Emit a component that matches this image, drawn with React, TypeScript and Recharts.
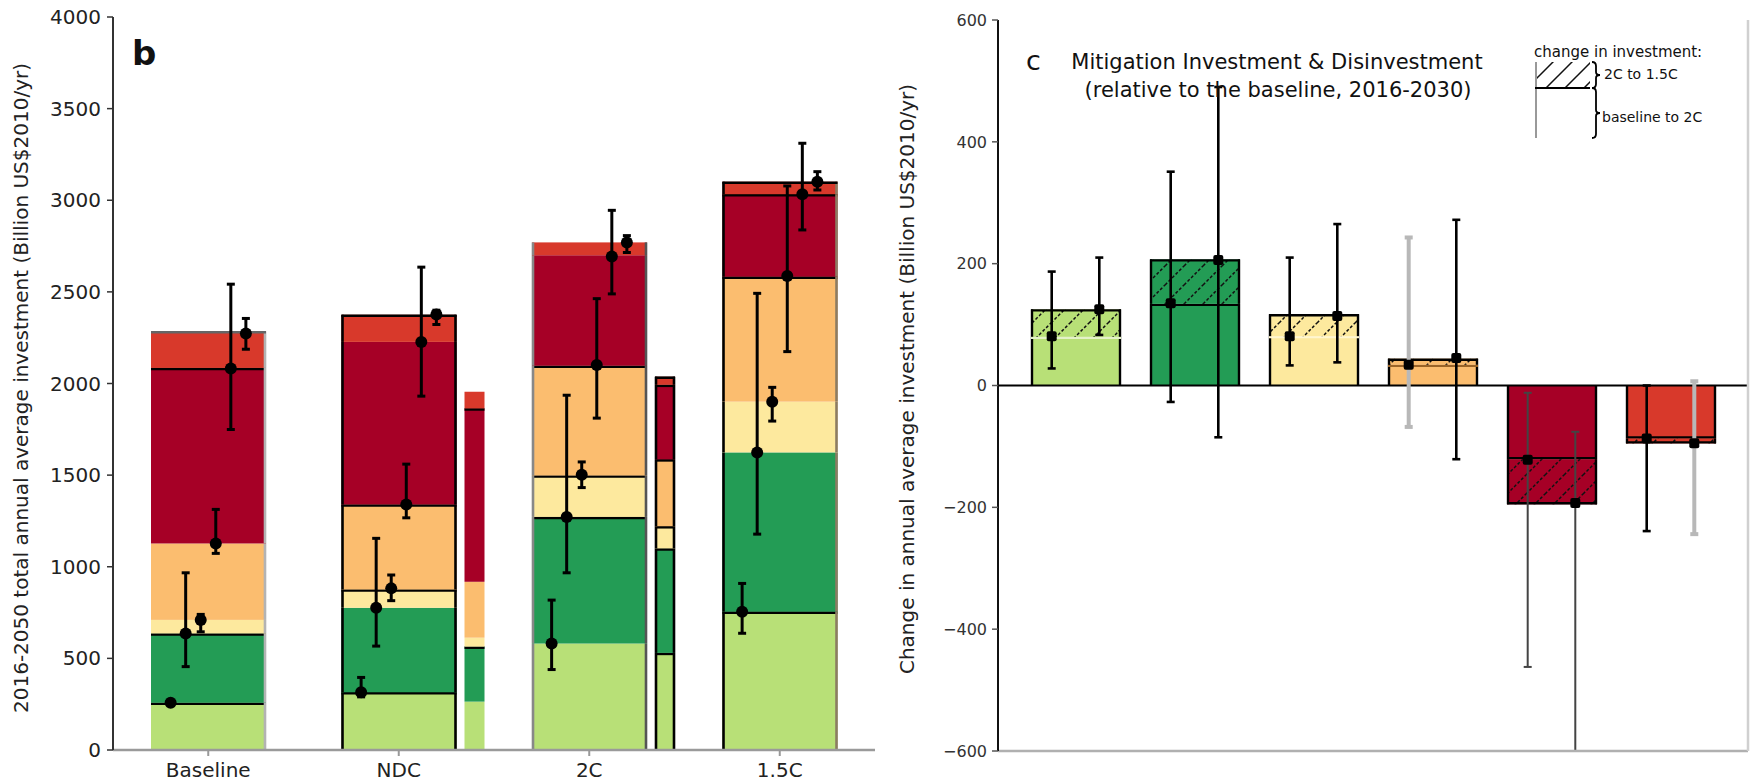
import React from "react";
import { ComposedChart, Bar, Scatter, ErrorBar, XAxis, YAxis, ReferenceLine } from "recharts";

const FONT = "'DejaVu Sans', sans-serif";

// ─── Panel b: 2016-2050 total annual average investment (Billion US$2010/yr) ───

const SCENARIOS = ["Baseline", "NDC", "2C", "1.5C"];
const SECTOR_COLORS = ["#b8e077", "#239c55", "#fde99e", "#fbbd6f", "#a60026", "#d8392b"];

// stacked segments of the wide bars, one value per scenario
const segLightGreen = [258, 315, 581, 755];
const segDarkGreen = [378, 461, 691, 869];
const segYellow = [74, 100, 226, 277];
const segOrange = [417, 464, 599, 682];
const segDarkRed = [958, 887, 603, 450];
const segRed = [200, 148, 70, 68];

// thin bars drawn next to NDC and 2C
const sideLightGreen = [0, 264, 530, 0];
const sideDarkGreen = [0, 300, 570, 0];
const sideYellow = [0, 49, 121, 0];
const sideOrange = [0, 305, 365, 0];
const sideDarkRed = [0, 946, 407, 0];
const sideRed = [0, 91, 44, 0];

// cumulative estimates with range, [mean, low, high] per scenario
const rngLightGreen = [[258, 247, 270], [315, 290, 396], [581, 439, 818], [755, 637, 909]];
const rngDarkGreen = [[636, 455, 967], [776, 567, 1155], [1272, 967, 1936], [1624, 1178, 2492]];
const rngYellow = [[709, 645, 740], [882, 815, 955], [1502, 1432, 1572], [1901, 1795, 1979]];
const rngOrange = [[1127, 1073, 1313], [1340, 1267, 1560], [2101, 1811, 2463], [2587, 2174, 3078]];
const rngDarkRed = [[2082, 1749, 2542], [2227, 1931, 2635], [2693, 2489, 2945], [3033, 2838, 3311]];
const rngRed = [[2273, 2187, 2355], [2376, 2322, 2400], [2770, 2715, 2807], [3101, 3056, 3156]];

const B_TICKS = [0, 500, 1000, 1500, 2000, 2500, 3000, 3500, 4000];

// ─── Panel c: change relative to the baseline, 2016-2030 ─────────────────────

const SECTORS = ["s1", "s2", "s3", "s4", "s5", "s6"];
const toTwoC = [80, 134, 81, 34, -121, -87]; // baseline -> 2C
const twoCToOnePointFive = [45, 73, 36, 10, -74, -8]; // 2C -> 1.5C (hatched)
const est2C = [[81, 28, 187], [135, -27, 351], [81, 33, 210], [34, -68, 243], [-122, -462, -12], [-87, -239, 0]];
const est15C = [[125, 83, 210], [206, -85, 490], [114, 38, 265], [45, -121, 272], [-193, -600, -76], [-95, -244, 7]];

const C_TICKS = [-600, -400, -200, 0, 200, 400, 600];

// ─── styling tables ──────────────────────────────────────────────────────────

type BarStyle = { lines: number[]; left: string | null; right: string | null; top: string | null };

const MAIN_STYLE: Record<string, BarStyle> = {
  Baseline: { lines: [0, 1, 4], left: null, right: "#b3b3b3", top: "#666" },
  NDC: { lines: [0, 2, 3], left: "#000", right: "#000", top: "#000" },
  "2C": { lines: [1, 2, 3], left: "#888", right: "#555", top: null },
  "1.5C": { lines: [0, 3, 4], left: "#000", right: "#8c7b63", top: "#000" },
};
const SIDE_STYLE: Record<string, BarStyle> = {
  NDC: { lines: [1, 4], left: null, right: null, top: null },
  "2C": { lines: [0, 1, 2, 3, 4], left: "#000", right: "#000", top: "#000" },
};
const SIDE_SHIFT = 76;
const POINT_STEP = 0.079;

const C_EDGE = ["#e4f2c8", "#000", "#fff6d0", "#9a6428", "#000", "#000"];
const TONE_2C = ["k", "k", "k", "light", "dark", "k"];
const TONE_15C = ["k", "k", "k", "k", "dark", "light"];
const TONES: Record<string, { stroke: string; w: number }> = {
  k: { stroke: "#000", w: 2.6 },
  dark: { stroke: "#444", w: 2 },
  light: { stroke: "#b8b8b8", w: 4 },
};

// ─── derived tables ─────────────────────────────────────────────────────────

const mainSegs = [segLightGreen, segDarkGreen, segYellow, segOrange, segDarkRed, segRed];
const sideSegs = [sideLightGreen, sideDarkGreen, sideYellow, sideOrange, sideDarkRed, sideRed];
const rangesB = [rngLightGreen, rngDarkGreen, rngYellow, rngOrange, rngDarkRed, rngRed];

const dataB = SCENARIOS.map((name, k) => {
  const row: Record<string, any> = { name };
  mainSegs.forEach((s, i) => (row[`m${i}`] = s[k]));
  sideSegs.forEach((s, i) => (row[`n${i}`] = s[k]));
  return row;
});

const scatterB = rangesB.map((rng, i) =>
  rng.map(([m, lo, hi], k) => ({ x: k + (i - 2.5) * POINT_STEP, y: m, err: [m - lo, hi - m] }))
);

const dataC = SECTORS.map((name, k) => ({ name, base: toTwoC[k], extra: twoCToOnePointFive[k] }));

function pointsC(est: number[][], tones: string[], shift: number, tone: string) {
  return est
    .map(([m, lo, hi], k) => ({ x: k + shift, y: m, err: [m - lo, hi - m], tone: tones[k] }))
    .filter((d) => d.tone === tone);
}

// ─── shapes ─────────────────────────────────────────────────────────────────

function stackShape(seg: number, side: boolean) {
  return (p: any) => {
    const { x, y, width, height, index } = p;
    if (!height || height <= 0) return <g />;
    const st = (side ? SIDE_STYLE : MAIN_STYLE)[SCENARIOS[index]];
    const x0 = side ? x + SIDE_SHIFT : x;
    const x1 = x0 + width;
    const yb = y + height;
    return (
      <g>
        <rect x={x0} y={y} width={width} height={height} fill={SECTOR_COLORS[seg]} />
        {st && st.lines.includes(seg) && (
          <line x1={x0} x2={x1} y1={y + 1} y2={y + 1} stroke="#000" strokeWidth={2.6} />
        )}
        {st && st.left && <line x1={x0 + 1} x2={x0 + 1} y1={y} y2={yb} stroke={st.left} strokeWidth={2.6} />}
        {st && st.right && <line x1={x1 - 1} x2={x1 - 1} y1={y} y2={yb} stroke={st.right} strokeWidth={2.6} />}
        {st && st.top && seg === 5 && (
          <line x1={x0} x2={x1} y1={y + 1} y2={y + 1} stroke={st.top} strokeWidth={2.6} />
        )}
      </g>
    );
  };
}

function changeShape(part: number) {
  return (p: any) => {
    const { x, width, index } = p;
    let { y, height } = p;
    if (height < 0) {
      y = y + height;
      height = -height;
    }
    if (!height) return <g />;
    const neg = toTwoC[index] < 0;
    const farY = neg ? y + height - 1 : y + 1;
    return (
      <g>
        <rect x={x} y={y} width={width} height={height} fill={SECTOR_COLORS[index]} />
        {part === 1 && <rect x={x} y={y} width={width} height={height} fill="url(#hatch)" />}
        <line x1={x + 1} x2={x + 1} y1={y} y2={y + height} stroke="#000" strokeWidth={2.4} />
        <line x1={x + width - 1} x2={x + width - 1} y1={y} y2={y + height} stroke="#000" strokeWidth={2.4} />
        <line x1={x} x2={x + width} y1={farY} y2={farY} stroke={part === 1 ? "#000" : C_EDGE[index]} strokeWidth={2.4} />
      </g>
    );
  };
}

const dot = (p: any) => <circle cx={p.cx} cy={p.cy} r={6} fill="#000" />;
const dotC = (p: any) => <rect x={p.cx - 5} y={p.cy - 5} width={10} height={10} rx={2} fill="#000" />;

const minus = (v: number) => (v < 0 ? `\u2212${-v}` : `${v}`);

function Brace({ x, y0, y1 }: { x: number; y0: number; y1: number }) {
  const ym = (y0 + y1) / 2;
  const d = `M${x},${y0} Q${x + 4},${y0} ${x + 4},${y0 + 4} L${x + 4},${ym - 3} Q${x + 4},${ym} ${x + 8},${ym} Q${x + 4},${ym} ${x + 4},${ym + 3} L${x + 4},${y1 - 4} Q${x + 4},${y1} ${x},${y1}`;
  return <path d={d} fill="none" stroke="#000" strokeWidth={1.8} />;
}

export default function App() {
  return (
    <div style={{ position: "absolute", left: 0, top: 0, width: 1752, height: 782, background: "#fff", fontFamily: FONT }}>
      {/* panel b */}
      <div style={{ position: "absolute", left: 0, top: 0 }}>
        <ComposedChart width={890} height={782} data={dataB} margin={{ top: 17, right: 15, bottom: 0, left: 53 }}>
          <XAxis
            dataKey="name"
            interval={0}
            height={32}
            tickSize={6}
            tickMargin={7}
            tick={{ fontSize: 20, fill: "#222", fontFamily: FONT }}
            axisLine={{ stroke: "#9a9a9a", strokeWidth: 2.5 }}
            tickLine={{ stroke: "#999", strokeWidth: 2 }}
          />
          <XAxis dataKey="name" xAxisId="side" hide />
          <XAxis xAxisId="num" type="number" dataKey="x" domain={[-0.5, 3.5]} allowDataOverflow hide />
          <YAxis
            domain={[0, 4000]}
            ticks={B_TICKS}
            interval={0}
            allowDataOverflow
            width={60}
            tickSize={6}
            tickMargin={6}
            tick={{ fontSize: 20, fill: "#222", fontFamily: FONT }}
            axisLine={{ stroke: "#333", strokeWidth: 2 }}
            tickLine={{ stroke: "#333", strokeWidth: 1.5 }}
          />
          {mainSegs.map((_, i) => (
            <Bar key={`m${i}`} dataKey={`m${i}`} stackId="main" barSize={115} isAnimationActive={false} shape={stackShape(i, false)} />
          ))}
          {sideSegs.map((_, i) => (
            <Bar key={`n${i}`} dataKey={`n${i}`} xAxisId="side" stackId="side" barSize={20} isAnimationActive={false} shape={stackShape(i, true)} />
          ))}
          {scatterB.map((d, i) => (
            <Scatter key={`e${i}`} xAxisId="num" data={d} dataKey="y" shape={dot} isAnimationActive={false}>
              <ErrorBar dataKey="err" direction="y" width={4} stroke="#000" strokeWidth={3} isAnimationActive={false} />
            </Scatter>
          ))}
        </ComposedChart>
      </div>

      {/* panel c */}
      <div style={{ position: "absolute", left: 880, top: 0 }}>
        <ComposedChart width={872} height={782} data={dataC} margin={{ top: 20, right: 3, bottom: 30, left: 58 }}>
          <defs>
            <pattern id="hatch" width={19} height={19} patternUnits="userSpaceOnUse">
              <path
                d="M0,19 L19,0 M-4.75,4.75 L4.75,-4.75 M14.25,23.75 L23.75,14.25"
                stroke="#111"
                strokeWidth={1.5}
                strokeDasharray="3 2"
              />
            </pattern>
          </defs>
          <XAxis
            dataKey="name"
            height={1}
            tick={false}
            tickLine={false}
            padding={{ left: 18, right: 18 }}
            axisLine={{ stroke: "#b0b0b0", strokeWidth: 2.5 }}
          />
          <XAxis
            xAxisId="num"
            type="number"
            dataKey="x"
            domain={[-0.5, 5.5]}
            padding={{ left: 18, right: 18 }}
            allowDataOverflow
            hide
          />
          <YAxis
            domain={[-600, 600]}
            ticks={C_TICKS}
            interval={0}
            allowDataOverflow
            width={60}
            tickSize={6}
            tickMargin={5}
            tickFormatter={minus}
            tick={{ fontSize: 16, fill: "#333", fontFamily: FONT }}
            axisLine={{ stroke: "#111", strokeWidth: 2 }}
            tickLine={{ stroke: "#555", strokeWidth: 1.5 }}
          />
          <YAxis
            yAxisId="right"
            orientation="right"
            domain={[-600, 600]}
            width={1}
            tick={false}
            tickLine={false}
            axisLine={{ stroke: "#d0d0d0", strokeWidth: 2.5 }}
          />
          <Bar dataKey="base" stackId="c" barSize={90} isAnimationActive={false} shape={changeShape(0)} />
          <Bar dataKey="extra" stackId="c" barSize={90} isAnimationActive={false} shape={changeShape(1)} />
          <ReferenceLine y={0} stroke="#000" strokeWidth={2} />
          {[
            { est: est2C, tones: TONE_2C, shift: -0.2 },
            { est: est15C, tones: TONE_15C, shift: 0.2 },
          ].flatMap((s, si) =>
            Object.keys(TONES).map((tone) => (
              <Scatter
                key={`c${si}${tone}`}
                xAxisId="num"
                data={pointsC(s.est, s.tones, s.shift, tone)}
                dataKey="y"
                shape={dotC}
                isAnimationActive={false}
              >
                <ErrorBar
                  dataKey="err"
                  direction="y"
                  width={4}
                  stroke={TONES[tone].stroke}
                  strokeWidth={TONES[tone].w}
                  isAnimationActive={false}
                />
              </Scatter>
            ))
          )}
        </ComposedChart>
      </div>

      {/* labels, titles and legend */}
      <svg width={1752} height={782} style={{ position: "absolute", left: 0, top: 0, pointerEvents: "none" }}>
        <defs>
          <pattern id="hatchLegend" width={19} height={19} patternUnits="userSpaceOnUse">
            <path d="M0,19 L19,0 M-4.75,4.75 L4.75,-4.75 M14.25,23.75 L23.75,14.25" stroke="#111" strokeWidth={1.5} />
          </pattern>
        </defs>
        <text x={132} y={65} fontSize={34} fontWeight="bold" fill="#111" fontFamily={FONT}>b</text>
        <text
          transform="translate(21,388) rotate(-90)"
          textAnchor="middle"
          dominantBaseline="central"
          fontSize={20}
          fill="#222"
          fontFamily={FONT}
        >
          2016-2050 total annual average investment (Billion US$2010/yr)
        </text>
        <text
          transform="translate(907,379) rotate(-90)"
          textAnchor="middle"
          dominantBaseline="central"
          fontSize={20}
          fill="#222"
          fontFamily={FONT}
        >
          Change in annual average investment (Billion US$2010/yr)
        </text>
        <text x={1026} y={70} fontSize={27} fill="#111" fontFamily={FONT}>c</text>
        <text x={1277} y={69} textAnchor="middle" fontSize={21} fill="#111" fontFamily={FONT}>
          Mitigation Investment &amp; Disinvestment
        </text>
        <text x={1278} y={97} textAnchor="middle" fontSize={21} fill="#111" fontFamily={FONT}>
          (relative to the baseline, 2016-2030)
        </text>

        <text x={1534} y={57} fontSize={15} fill="#111" fontFamily={FONT}>change in investment:</text>
        <rect x={1535} y={62} width={55} height={26} fill="url(#hatchLegend)" />
        <line x1={1536} x2={1536} y1={62} y2={138} stroke="#999" strokeWidth={2} />
        <line x1={1535} x2={1590} y1={88} y2={88} stroke="#000" strokeWidth={2} />
        <Brace x={1592} y0={62} y1={88} />
        <Brace x={1592} y0={88} y1={138} />
        <text x={1604} y={79} fontSize={14} fill="#111" fontFamily={FONT}>2C to 1.5C</text>
        <text x={1602} y={122} fontSize={14} fill="#111" fontFamily={FONT}>baseline to 2C</text>
      </svg>
    </div>
  );
}
